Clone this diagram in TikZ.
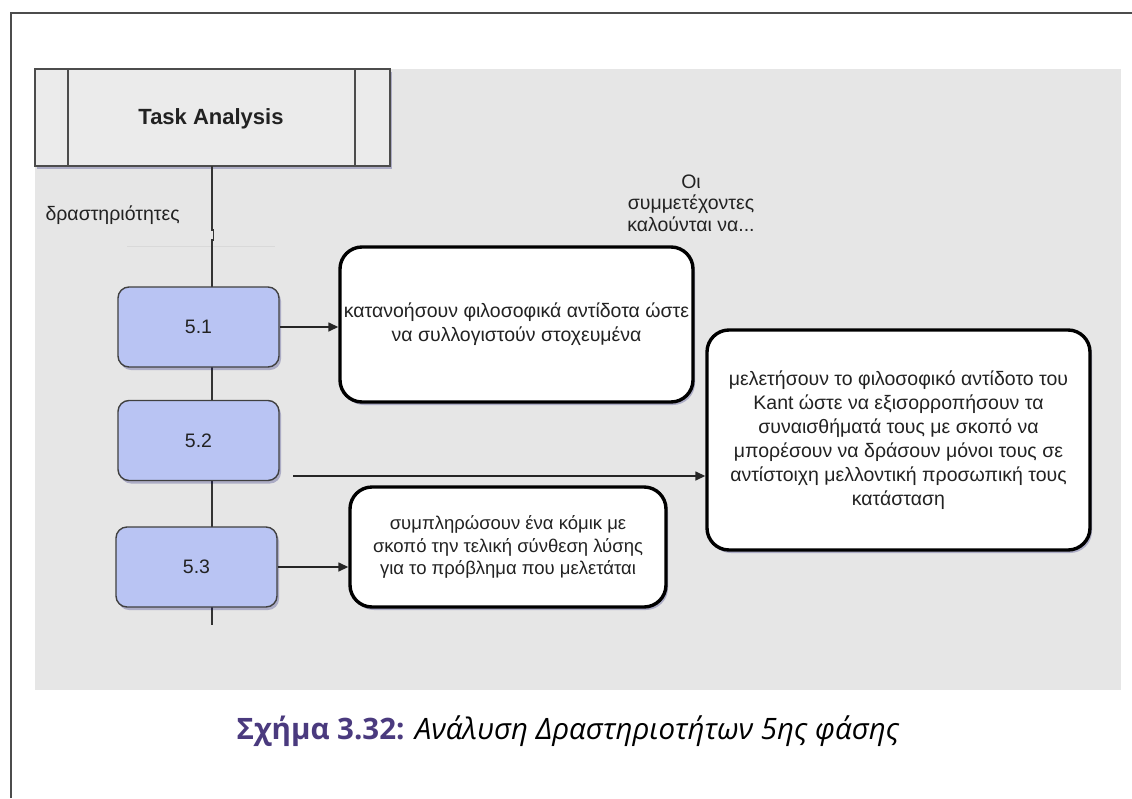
\documentclass[tikz,border=0pt]{standalone}
\usepackage{fontspec}
\setmainfont{Liberation Sans}
\newfontfamily\capfont{Open Sans}
\usetikzlibrary{arrows.meta,shadows}
\definecolor{panel}{HTML}{E6E6E6}
\definecolor{headfill}{HTML}{EBEBEB}
\definecolor{stepfill}{HTML}{B9C4F3}
\definecolor{capblue}{HTML}{4A3A7E}
\definecolor{txt}{HTML}{222222}
\tikzset{
  x=1pt,y=-1pt,
  softshadow/.style={drop shadow={shadow xshift=2pt,shadow yshift=-3pt,opacity=0.25,fill=black!60!blue}},
  stepbox/.style={draw=black!75,line width=1.4pt,fill=stepfill,rounded corners=11pt,
    minimum width=161pt,minimum height=80pt,font=\fontsize{19.5}{22}\selectfont,text=txt,softshadow},
  taskbox/.style={draw=black,line width=3.4pt,fill=white,rounded corners=22pt,align=center,
    font=\fontsize{19.5}{24}\selectfont,text=txt,softshadow},
  link/.style={-{Triangle[length=10pt,width=9pt]},line width=1.5pt,draw=black!85},
  spine/.style={line width=1.5pt,draw=black!80}
}
\begin{document}
\begin{tikzpicture}
\useasboundingbox (0,0) rectangle (1132,798);
% page frame
\draw[line width=1.6pt,black!70] (11,798) -- (11,13) -- (1132,13);
% panel
\fill[panel] (35,69) rectangle (1121,690);
% header
\draw[line width=1.4pt,black!70,fill=headfill,softshadow] (35,69) rectangle (390,166);
\draw[line width=1.4pt,black!70] (68,69) -- (68,166) (355,69) -- (355,166);
\node[font=\fontsize{22}{24}\selectfont\bfseries,text=txt] (head) at (211,119) {Task Analysis};
\node[anchor=west,font=\fontsize{19.5}{22}\selectfont,text=txt] (lane) at (42,215) {δραστηριότητες};
\draw[line width=1pt,black!15] (127,246) -- (275,246);
% spine
\coordinate (top) at (212,166);
\coordinate (bot) at (212,625);
\draw[spine] (top) -- (212,230) -- (213.5,230) -- (213.5,240) -- (212,240) -- (bot);
% steps
\node[stepbox] (s1) at (198.5,327) {5.1};
\node[stepbox] (s2) at (198.5,440.5) {5.2};
\node[stepbox] (s3) at (196.5,567) {5.3};
% tasks
\node[align=center,font=\fontsize{19.5}{21.5}\selectfont,text=txt] (intro) at (691,203) {Οι\\συμμετέχοντες\\καλούνται να...};
\node[taskbox,minimum width=353pt,minimum height=155pt] (a) at (516.5,324.5)
  {κατανοήσουν φιλοσοφικά αντίδοτα ώστε\\να συλλογιστούν στοχευμένα};
\node[taskbox,minimum width=383pt,minimum height=220pt] (b) at (898.5,440)
  {μελετήσουν το φιλοσοφικό αντίδοτο του\\Kant ώστε να εξισορροπήσουν τα\\συναισθήματά τους με σκοπό να\\μπορέσουν να δράσουν μόνοι τους σε\\αντίστοιχη μελλοντική προσωπική τους\\κατάσταση};
\node[taskbox,minimum width=316pt,minimum height=120pt,font=\fontsize{18.5}{22.5}\selectfont] (c) at (508,547)
  {συμπληρώσουν ένα κόμικ με\\σκοπό την τελική σύνθεση λύσης\\για το πρόβλημα που μελετάται};
% connectors
\draw[link] (s1.east) -- (a.west |- s1.east);
\coordinate (s2tail) at (293,476);
\draw[link] (s2tail) -- (b.west |- s2tail);
\draw[link] (s3.east) -- (c.west |- s3.east);
% caption
\node[font=\capfont\fontsize{29.5}{32}\selectfont] (cap) at (568,731)
  {\textcolor{capblue}{\bfseries Σχήμα 3.32:} \itshape Ανάλυση Δραστηριοτήτων 5ης φάσης};
\end{tikzpicture}
\end{document}
